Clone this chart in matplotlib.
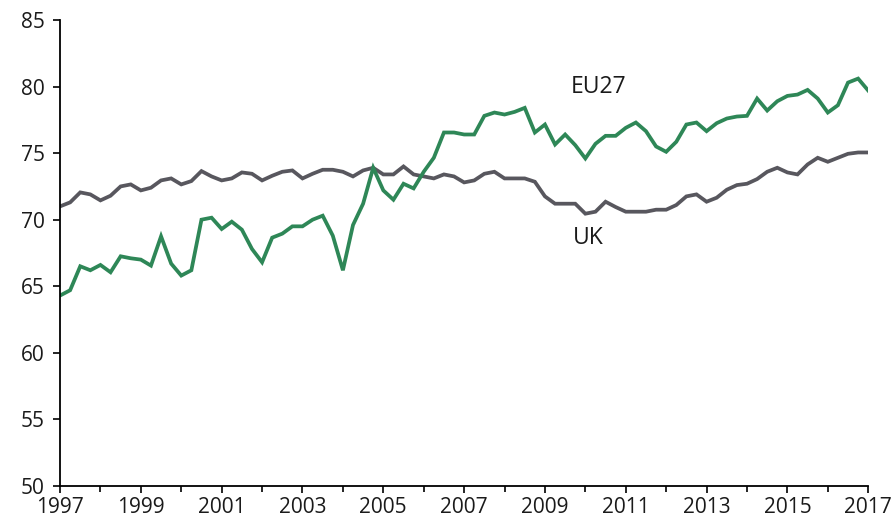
import matplotlib
matplotlib.use("Agg")
import matplotlib.pyplot as plt
from matplotlib.ticker import MultipleLocator
import numpy as np

plt.rcParams['font.family'] = ['Open Sans', 'DejaVu Sans']

start_year = 1997
uk = [71.0, 71.3, 72.05, 71.9, 71.45, 71.8, 72.5, 72.65, 72.2, 72.4,
      72.95, 73.1, 72.65, 72.9, 73.65, 73.25, 72.95, 73.1, 73.55, 73.45,
      72.95, 73.3, 73.6, 73.7, 73.1, 73.45, 73.75, 73.75, 73.6, 73.25,
      73.7, 73.9, 73.4, 73.4, 74.0, 73.4, 73.25, 73.1, 73.4, 73.25,
      72.8, 72.95, 73.45, 73.6, 73.1, 73.1, 73.1, 72.85, 71.75, 71.2,
      71.2, 71.2, 70.45, 70.6, 71.35, 70.95, 70.6, 70.6, 70.6, 70.75,
      70.75, 71.1, 71.75, 71.9, 71.35, 71.65, 72.25, 72.6, 72.7, 73.05,
      73.6, 73.9, 73.55, 73.4, 74.15, 74.65, 74.35, 74.65, 74.95, 75.05,
      75.05]
eu27 = [64.3, 64.7, 66.5, 66.2, 66.6, 66.05, 67.25, 67.1, 67.0, 66.55,
        68.75, 66.7, 65.8, 66.2, 70.0, 70.15, 69.3, 69.85, 69.25, 67.8,
        66.8, 68.65, 68.95, 69.5, 69.5, 70.0, 70.3, 68.8, 66.2, 69.6,
        71.2, 73.9, 72.2, 71.5, 72.7, 72.35, 73.6, 74.65, 76.55, 76.55,
        76.4, 76.4, 77.8, 78.05, 77.9, 78.1, 78.4, 76.55, 77.15, 75.65,
        76.4, 75.6, 74.6, 75.7, 76.3, 76.3, 76.9, 77.3, 76.65, 75.5,
        75.1, 75.85, 77.15, 77.3, 76.65, 77.25, 77.6, 77.75, 77.8, 79.1,
        78.2, 78.9, 79.3, 79.4, 79.75, 79.1, 78.05, 78.6, 80.3, 80.6,
        79.7]
x = start_year + np.arange(len(uk)) / 4.0

year_ticks = list(range(1997, 2018, 2))
y_ticks = [50, 55, 60, 65, 70, 75, 80, 85]

green = '#2E8757'
grey = '#58575E'

fig = plt.figure(figsize=(8.96, 5.27), dpi=100)
ax = fig.add_axes([0.067, 0.078, 0.902, 0.884])

ax.plot(x, uk, color=grey, lw=2.7, solid_joinstyle='miter')
ax.plot(x, eu27, color=green, lw=2.7, solid_joinstyle='miter')

ax.set_xlim(1997, 2017)
ax.set_ylim(50, 85)
ax.set_xticks(year_ticks)
ax.set_xticklabels([str(t) for t in year_ticks])
ax.xaxis.set_minor_locator(MultipleLocator(1))
ax.set_yticks(y_ticks)

for s in ['top', 'right']:
    ax.spines[s].set_visible(False)
for s in ['left', 'bottom']:
    ax.spines[s].set_color('black')
    ax.spines[s].set_linewidth(1.3)

ax.tick_params(axis='both', which='major', direction='out', length=5,
               width=1.2, labelsize=15, colors='black', labelcolor='#1a1a1a')
ax.tick_params(axis='x', which='minor', direction='out', length=4, width=1.2)
ax.tick_params(axis='x', pad=3)
ax.tick_params(axis='y', pad=6)

ax.text(2010.33, 80.0, 'EU27', fontsize=16.5, color='#1a1a1a', ha='center', va='center')
ax.text(2010.06, 68.6, 'UK', fontsize=16.5, color='#1a1a1a', ha='center', va='center')

fig.savefig('out.png', dpi=100)
